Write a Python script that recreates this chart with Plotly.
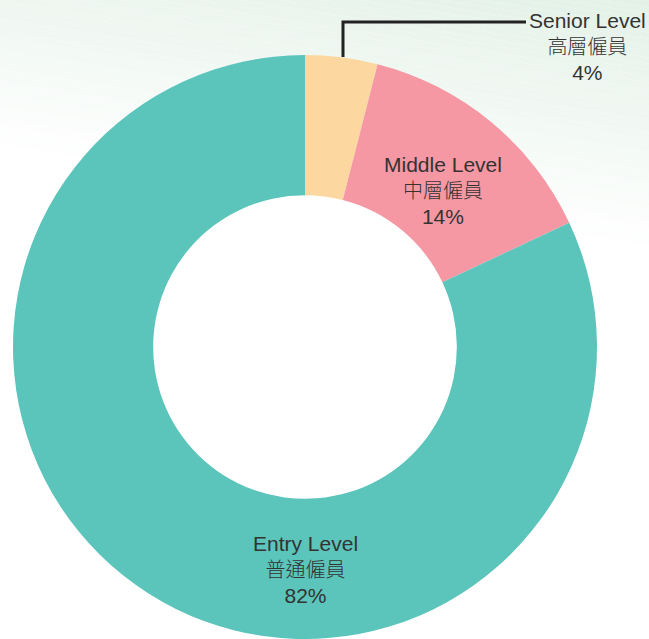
import plotly.graph_objects as go

labels_en = ["Senior Level", "Middle Level", "Entry Level"]
labels_zh = ["高層僱員", "中層僱員", "普通僱員"]
values = [4, 14, 82]
colors = ["#FDD7A0", "#F598A3", "#5BC4BB"]

W, H = 649, 639
cx, cy, R = 305, 347, 292

fig = go.Figure()
fig.add_trace(go.Pie(
    labels=labels_en, values=values, sort=False, direction="clockwise", rotation=0,
    hole=0.52, marker=dict(colors=colors, line=dict(width=0)),
    textinfo="none", hoverinfo="label+percent", showlegend=False,
    domain=dict(x=[(cx - R) / W, (cx + R) / W], y=[(H - cy - R) / H, (H - cy + R) / H]),
))

def px(x):
    return x / W

def py(y):
    return 1 - y / H

# diagonal background gradient: bands along lines y = 0.156*x - 100 + 250*s
shapes = []
top = (227, 241, 231)
n = 40
for i in range(n):
    s0, s1 = i / n, (i + 1) / n
    t = (s0 + s1) / 2
    c = tuple(int(round(top[k] + (255 - top[k]) * t)) for k in range(3))
    xa, xb = -10, W + 10
    def yl(x, s):
        return 0.156 * x - 100 + 250 * s
    if i == 0:
        ya0, yb0 = -200, -200
    else:
        ya0, yb0 = yl(xa, s0), yl(xb, s0)
    ya1, yb1 = yl(xa, s1), yl(xb, s1)
    path = "M %f,%f L %f,%f L %f,%f L %f,%f Z" % (
        px(xa), py(ya0), px(xb), py(yb0), px(xb), py(yb1), px(xa), py(ya1))
    shapes.append(dict(type="path", xref="paper", yref="paper", path=path,
                       fillcolor="rgb(%d,%d,%d)" % c, line=dict(width=0), layer="below"))

shapes.append(dict(type="path", xref="paper", yref="paper",
                   path="M %f,%f L %f,%f L %f,%f" % (px(343), py(57), px(343), py(22), px(526), py(22)),
                   line=dict(color="#222222", width=3)))

font = dict(family="Liberation Sans, Arial, Noto Sans CJK TC", size=20, color="#333333")
pos = [(587, 47), (443, 190), (305, 569)]
annotations = []
for en, zh, v, (x, y) in zip(labels_en, labels_zh, values, pos):
    annotations.append(dict(
        x=px(x), y=py(y), xref="paper", yref="paper", showarrow=False,
        text=(f"<span style='font-size:21px'>{en}</span><br>"
              f"<span style='font-family:Noto Sans CJK TC;font-size:20px;font-weight:300'>{zh}</span><br>"
              f"<span style='font-size:21px'>{v}%</span>"),
        font=font, align="center", xanchor="center", yanchor="middle",
    ))

fig.update_layout(
    width=W, height=H, margin=dict(l=0, r=0, t=0, b=0),
    paper_bgcolor="white", plot_bgcolor="white",
    shapes=shapes, annotations=annotations,
)
fig.write_html("out.html", config={"displayModeBar": False},
               post_script="document.body.style.margin='0';document.body.style.overflow='hidden';")
